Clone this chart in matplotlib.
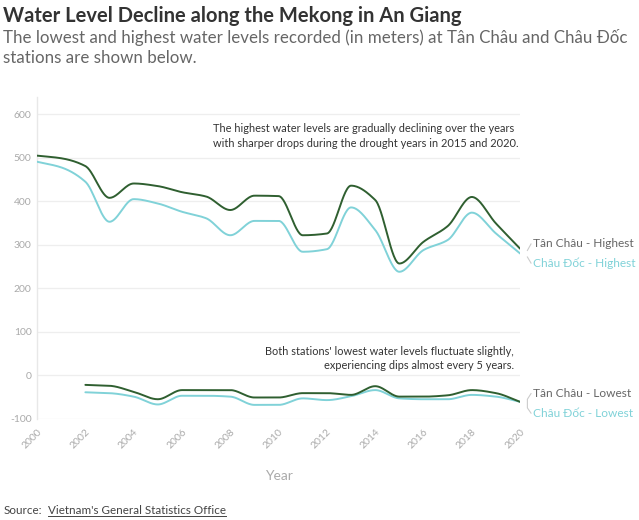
import numpy as np
import matplotlib
matplotlib.use("Agg")
import matplotlib.pyplot as plt

plt.rcParams['font.family'] = ['Lato', 'DejaVu Sans']

years = list(range(2000, 2021))
tan_chau_high = [505, 499, 481, 408, 441, 435, 421, 411, 380, 413, 412, 322, 326, 436, 403, 257, 307, 343, 410, 349, 291]
chau_doc_high = [491, 478, 445, 353, 405, 395, 376, 361, 322, 355, 355, 284, 290, 386, 334, 238, 288, 311, 374, 326, 280]
low_years = list(range(2002, 2021))
tan_chau_low = [-22, -24, -38, -55, -34, -34, -34, -51, -51, -41, -41, -45, -25, -49, -49, -46, -34, -41, -61]
chau_doc_low = [-39, -41, -49, -67, -47, -47, -49, -68, -68, -53, -57, -48, -34, -53, -55, -55, -45, -49, -61]
yticks = [-100, 0, 100, 200, 300, 400, 500, 600]
xticks = list(range(2000, 2021, 2))

DARK = '#2f5f30'
CYAN = '#80d2d8'


def monotone(x, y, n=30):
    x = np.asarray(x, float); y = np.asarray(y, float)
    h = np.diff(x); d = np.diff(y) / h
    m = np.zeros_like(y)
    m[0] = d[0]; m[-1] = d[-1]
    for i in range(1, len(y) - 1):
        if d[i - 1] * d[i] <= 0:
            m[i] = 0
        else:
            w1 = 2 * h[i] + h[i - 1]; w2 = h[i] + 2 * h[i - 1]
            m[i] = (w1 + w2) / (w1 / d[i - 1] + w2 / d[i])
    xs, ys = [], []
    for i in range(len(x) - 1):
        t = np.linspace(0, 1, n, endpoint=False)
        h00 = 2*t**3 - 3*t**2 + 1; h10 = t**3 - 2*t**2 + t
        h01 = -2*t**3 + 3*t**2; h11 = t**3 - t**2
        xs.append(x[i] + t * h[i])
        ys.append(h00*y[i] + h10*h[i]*m[i] + h01*y[i+1] + h11*h[i]*m[i+1])
    xs.append([x[-1]]); ys.append([y[-1]])
    return np.concatenate(xs), np.concatenate(ys)


fig = plt.figure(figsize=(6.39, 5.2), dpi=100)
ax = fig.add_axes([0.058, 0.1946, 0.756, 0.619])

for xs, ys, c in [(years, chau_doc_high, CYAN), (years, tan_chau_high, DARK),
                  (low_years, chau_doc_low, CYAN), (low_years, tan_chau_low, DARK)]:
    sx, sy = monotone(xs, ys)
    ax.plot(sx, sy, color=c, lw=1.4, solid_capstyle='round', zorder=3)

ax.set_xlim(2000, 2020)
ax.set_ylim(-100, 640)
ax.set_yticks(yticks)
ax.set_xticks(xticks)
ax.set_xticklabels([str(t) for t in xticks], rotation=45, ha='right', va='top',
                   rotation_mode='anchor', fontsize=7.5, color='#aaaaaa')
ax.set_yticklabels([str(t) for t in yticks], fontsize=7.5, color='#aaaaaa')
ax.tick_params(length=0, pad=4)
ax.tick_params(axis='x', pad=6)
ax.grid(axis='y', color='#eeeeee', lw=0.9)
ax.set_axisbelow(True)
for s in ['top', 'right', 'bottom']:
    ax.spines[s].set_visible(False)
ax.spines['left'].set_color('#e8e8e8')
ax.spines['left'].set_linewidth(1.0)
ax.set_xlabel('Year', fontsize=10, color='#aaaaaa', labelpad=14)

ax.text(2007.3, 580, 'The highest water levels are gradually declining over the years\n'
        'with sharper drops during the drought years in 2015 and 2020.',
        fontsize=7.9, color='#333333', ha='left', va='top', linespacing=1.4)
ax.text(2019.75, 68, "Both stations' lowest water levels fluctuate slightly,\n"
        'experiencing dips almost every 5 years.',
        fontsize=7.9, color='#333333', ha='right', va='top', linespacing=1.4, multialignment='right')

lab = dict(fontsize=8.6, transform=ax.transData, clip_on=False, va='center', ha='left')
ax.text(2020.55, 302, 'Tân Châu - Highest', color='#666666', **lab)
ax.text(2020.55, 258, 'Châu Đốc - Highest', color=CYAN, **lab)
ax.text(2020.55, -42, 'Tân Châu - Lowest', color='#666666', **lab)
ax.text(2020.55, -87, 'Châu Đốc - Lowest', color=CYAN, **lab)
ax.plot([2020.3, 2020.45], [287, 302], color='#cccccc', lw=0.8, clip_on=False)
ax.plot([2020.3, 2020.45], [272, 258], color='#cccccc', lw=0.8, clip_on=False)
ax.plot([2020.45, 2020.3, 2020.3, 2020.45], [-42, -55, -75, -87], color='#cccccc', lw=0.8, clip_on=False)

fig.text(0.005, 0.957, 'Water Level Decline along the Mekong in An Giang', fontsize=14.5,
         fontweight='bold', color='#333333', ha='left', va='baseline')
fig.text(0.005, 0.918, 'The lowest and highest water levels recorded (in meters) at Tân Châu and Châu Đốc',
         fontsize=12.2, color='#666666', ha='left', va='baseline')
fig.text(0.005, 0.878, 'stations are shown below.', fontsize=12.2, color='#666666', ha='left', va='baseline')
fig.text(0.005, 0.012, 'Source:', fontsize=8.4, color='#444444', ha='left', va='baseline')
link = fig.text(0.075, 0.012, "Vietnam's General Statistics Office", fontsize=8.4, color='#444444',
                ha='left', va='baseline')
fig.canvas.draw()
bb = link.get_window_extent().transformed(fig.transFigure.inverted())
fig.add_artist(plt.Line2D([bb.x0, bb.x1], [0.007, 0.007], color='#444444', lw=0.7))

fig.savefig('out.png', dpi=100, facecolor='white')
